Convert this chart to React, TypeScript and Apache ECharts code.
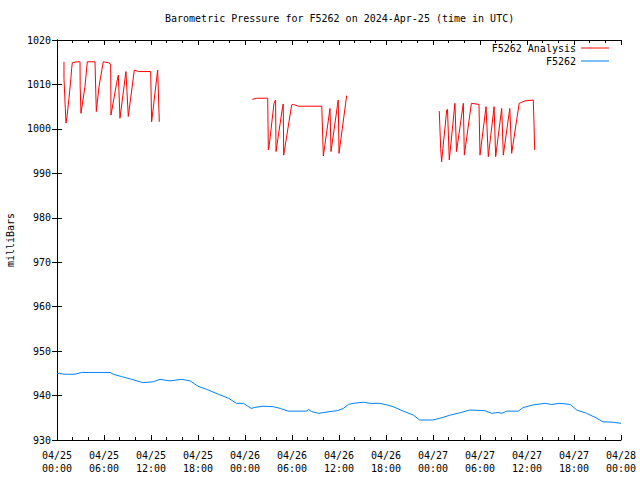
import React, { useEffect, useRef } from "react";
import * as echarts from "echarts";

// Hours since 2024-04-25 00:00 UTC
const analysisHours: (number | null)[] = [
  0.89, 0.89, 1.06, 1.15, 1.28, 1.53, 1.79, 1.87, 1.96, 2.6, 2.94, 2.96, 3.06, 3.57, 3.87, 4.85, 5.02, 5.36, 5.91, 6.55, 6.85, 6.89, 7.6, 7.83, 8.04, 8.8, 9.1, 9.87, 10.4, 11.96, 12.08, 12.85, 13.06,
  null,
  24.93, 25.5, 26.9, 26.98, 27.1, 27.7, 27.9, 27.96, 28.8, 28.88, 28.94, 29.96, 30.2, 30.8, 33.8, 34.0, 34.85, 34.98, 35.9, 36.0, 36.98,
  null,
  48.8, 48.98, 49.1, 49.75, 49.85, 50.08, 50.8, 51.0, 51.87, 52.0, 52.9, 53.87, 54.0, 54.77, 55.06, 55.8, 56.0, 56.77, 56.98, 57.8, 58.04, 59.0, 59.75, 60.8, 60.9, 60.98,
];
const analysisValues: (number | null)[] = [
  1015.1, 1011.4, 1004.6, 1001.3, 1002.8, 1006.9, 1011.7, 1013.6, 1014.9, 1015.1, 1015.1, 1009.5, 1003.5, 1009.5, 1015.1, 1015.1, 1003.9, 1009.5, 1015.1, 1014.9, 1014.6, 1003.1, 1010.2, 1012.1, 1002.4, 1012.9, 1002.8, 1013.25, 1012.9, 1012.9, 1001.6, 1013.25, 1001.6,
  null,
  1006.65, 1006.9, 1006.9, 995.25, 996.4, 1005.75, 1006.5, 994.9, 1005.0, 1005.6, 994.1, 1005.4, 1005.5, 1005.1, 1005.1, 993.9, 1004.6, 994.9, 1006.5, 994.5, 1007.5,
  null,
  1004.0, 995.6, 992.6, 1004.25, 1004.4, 993.0, 1005.75, 994.9, 1005.75, 994.1, 1005.75, 1005.5, 994.1, 1005.0, 993.75, 1005.0, 993.75, 1004.6, 994.1, 1004.6, 994.5, 1005.75, 1006.3, 1006.5, 1000.9, 995.25,
];

const stationHours: number[] = [
  0, 0.38, 0.8, 2.3, 3.15, 6.77, 7.2, 8.26, 9.54, 11.0, 12.3, 13.15, 14.4, 15.9, 17.0, 18.0, 19.1, 20.6, 21.9, 22.9, 23.8,
  24.8, 25.3, 26.3, 27.6, 28.5, 29.5, 31.9, 32.1, 32.5, 33.4, 34.85, 35.8, 36.55, 37.2, 37.8, 39.1, 39.96, 41.2, 42.1, 42.9,
  44.2, 45.5, 46.3, 47.96, 48.9, 50.2, 51.4, 52.7, 54.6, 55.5, 56.3, 56.8, 57.4, 58.9, 59.5, 60.8, 62.3, 63.15, 64.2, 65.5,
  66.35, 67.6, 68.7, 69.7, 71.0, 72.0,
];
const stationValues: number[] = [
  945.0, 945.0, 944.8, 944.8, 945.2, 945.2, 944.8, 944.25, 943.65, 942.9, 943.1, 943.65, 943.3, 943.65, 943.3, 942.1, 941.4, 940.3, 939.4, 938.25, 938.25,
  937.1, 937.35, 937.6, 937.5, 937.1, 936.5, 936.5, 936.9, 936.4, 936.0, 936.4, 936.6, 937.1, 938.0, 938.25, 938.5, 938.25, 938.25, 937.9, 937.5,
  936.5, 935.6, 934.5, 934.5, 934.9, 935.6, 936.1, 936.75, 936.6, 936.0, 936.2, 936.0, 936.5, 936.5, 937.3, 937.9, 938.25, 938.0, 938.25, 938.0,
  936.75, 936.0, 935.1, 934.1, 934.0, 933.75,
];

const seriesNames = ["F5262 Analysis", "F5262"];
const titleText = "Barometric Pressure for F5262 on 2024-Apr-25 (time in UTC)";
const yAxisName = "milliBars";
const startDay = 25;
const monthLabel = "04";

const FONT = "DejaVu Sans Mono";

function pad(n: number) {
  return n < 10 ? "0" + n : String(n);
}

function timeLabel(h: number) {
  const day = startDay + Math.floor(h / 24);
  const hh = Math.round(h % 24);
  return monthLabel + "/" + day + "\n" + pad(hh) + ":00";
}

export default function App() {
  const ref = useRef<HTMLDivElement>(null);

  useEffect(() => {
    if (!ref.current) return;
    const chart = echarts.init(ref.current, undefined, { renderer: "svg" });

    const analysisData = analysisHours.map((h, i) =>
      h === null ? [null, null] : [h, analysisValues[i]]
    );
    const stationData = stationHours.map((h, i) => [h, stationValues[i]]);

    const axisLine = { show: true, lineStyle: { color: "#000", width: 1 } };
    const xCommon = {
      type: "value" as const,
      min: 0,
      max: 72,
      interval: 6,
      splitLine: { show: false },
      axisLine,
      axisTick: { show: true, inside: true, length: 5, lineStyle: { color: "#000" } },
      minorTick: { show: true, splitNumber: 3, length: 3, lineStyle: { color: "#000" } },
    };
    const yCommon = {
      type: "value" as const,
      min: 930,
      max: 1020,
      interval: 10,
      splitLine: { show: false },
      axisLine,
      axisTick: { show: true, inside: true, length: 5, lineStyle: { color: "#000" } },
    };

    chart.setOption({
      animation: false,
      backgroundColor: "#fff",
      title: {
        text: titleText,
        left: 165,
        top: 13,
        padding: 0,
        textStyle: { fontFamily: FONT, fontSize: 10, fontWeight: "normal", color: "#000" },
      },
      legend: [
        {
          data: [seriesNames[0]],
          right: 31,
          top: 43,
          padding: 0,
          align: "right",
          icon: "rect",
          itemWidth: 28,
          itemHeight: 1,
          textStyle: { fontFamily: FONT, fontSize: 10, color: "#000" },
        },
        {
          data: [seriesNames[1]],
          right: 31,
          top: 56,
          padding: 0,
          align: "right",
          icon: "rect",
          itemWidth: 28,
          itemHeight: 1,
          textStyle: { fontFamily: FONT, fontSize: 10, color: "#000" },
        },
      ],
      grid: { left: 57, right: 19, top: 40, bottom: 40, containLabel: false, outerBoundsMode: "none" },
      xAxis: [
        {
          ...xCommon,
          position: "bottom",
          axisLabel: {
            show: true,
            margin: 9,
            fontFamily: FONT,
            fontSize: 10,
            color: "#000",
            lineHeight: 13,
            showMinLabel: true,
            showMaxLabel: true,
            hideOverlap: false,
            formatter: (v: number) => timeLabel(v),
          },
        },
        {
          ...xCommon,
          position: "top",
          axisLabel: { show: false },
        },
      ],
      yAxis: [
        {
          ...yCommon,
          position: "left",
          name: yAxisName,
          nameLocation: "middle",
          nameRotate: 90,
          nameGap: 42,
          nameTextStyle: { fontFamily: FONT, fontSize: 10, color: "#000" },
          axisLabel: {
            margin: 6,
            fontFamily: FONT,
            fontSize: 10,
            color: "#000",
            formatter: (v: number) => String(v),
          },
        },
        {
          ...yCommon,
          position: "right",
          axisLabel: { show: false },
        },
      ],
      series: [
        {
          name: seriesNames[0],
          type: "line",
          data: analysisData,
          symbol: "none",
          connectNulls: false,
          lineStyle: { color: "#ff0000", width: 1 },
          itemStyle: { color: "#ff0000" },
        },
        {
          name: seriesNames[1],
          type: "line",
          data: stationData,
          symbol: "none",
          lineStyle: { color: "#0080ff", width: 1 },
          itemStyle: { color: "#0080ff" },
        },
      ],
    });

    return () => chart.dispose();
  }, []);

  return (
    <div
      ref={ref}
      style={{ position: "fixed", left: 0, top: 0, width: 640, height: 480, background: "#fff" }}
    />
  );
}
